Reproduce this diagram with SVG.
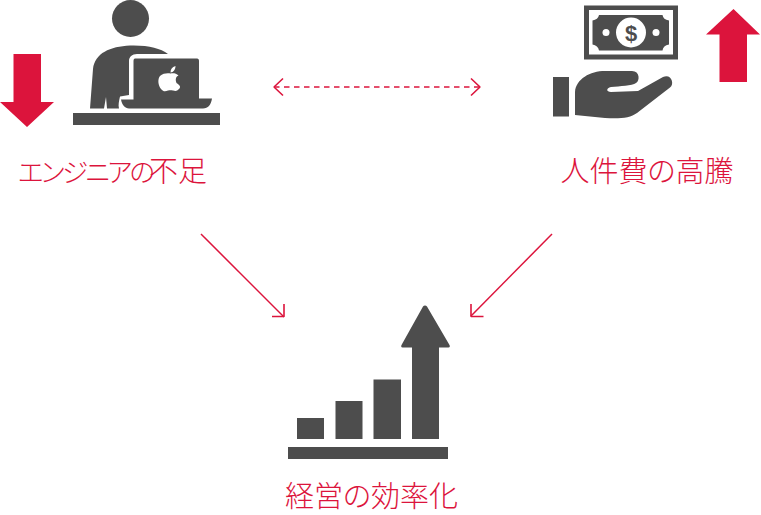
<svg xmlns="http://www.w3.org/2000/svg" width="761" height="515" viewBox="0 0 761 515">
<style>
.ic{fill:#4d4d4d}
.red{fill:#dc143c}
.lb{fill:#dc143c;font-family:"Noto Sans CJK JP","Noto Sans",sans-serif;font-size:29px;font-weight:300;text-anchor:middle;font-feature-settings:"palt"}
.cn{fill:none;stroke:#dc143c;stroke-width:1.5}
.hd{fill:none;stroke:#dc143c;stroke-width:1.6;stroke-linejoin:bevel}
</style>
<rect width="761" height="515" fill="#fff"/>
<g id="connectors">
<line class="cn" x1="274" y1="87" x2="479" y2="87" stroke-dasharray="5.5 4.5"/>
<path class="hd" d="M283 78.500L274 87L283 95.500M471 78.500L480 87L471 95.500"/>
<line class="cn" x1="201" y1="234" x2="284" y2="317"/>
<path class="hd" d="M272 316.500H284V304"/>
<line class="cn" x1="552" y1="234" x2="471" y2="316"/>
<path class="hd" d="M471 304V316.500H483.500"/>
</g>
<g id="engineer-shortage">
<path class="red" d="M13.500 54H41V102H54L27 127L0 102H13.500Z"/>
<circle class="ic" cx="130.500" cy="18.500" r="18.500"/>
<path class="ic" d="M90 108.500L93 69C95 53 110 46.500 130 45.500C148 45 160 48 168 54L137 54C132 54 129 57 129 61L129 95L120 96.500C119 101 118 105 119 108.500L107 108.500L106 97L104 108.500Z"/>
<path class="ic" d="M135 58.500H197C198.500 58.500 199 59.500 199 61V98.500H212C211 105 208 108.500 203 108.500H129C125 108.500 122 105 121 99.500H133.500V61C133.500 59.500 134 58.500 135 58.500Z"/>
<path fill="#fff" d="M175.500 66C172 67 170.500 69.500 170.500 72.500C173.500 72.500 175.500 69.500 175.500 66ZM170.500 73.500C168 73 163 73 160 76C157.500 79 158 85 161 89C163.500 92 165.500 91.500 168 90.500C170 90 171 90 173 90.500C176 91.500 177 91 179 89C180.500 87.500 181 86 176.500 83C175 79 176 76.500 178.500 75.500C176 73 173 73 170.500 73.500Z"/>
<rect class="ic" x="73" y="113" width="147" height="12"/>
<text class="lb" y="182" style="text-anchor:start"><tspan x="18" font-size="26.500" letter-spacing="-2.500">エンジニアの</tspan><tspan x="149">不足</tspan></text>
</g>
<g id="labor-cost">
<path class="red" d="M733.500 9L760 34.500H747V82H719.500V34.500H706Z"/>
<rect class="ic" x="584" y="5.500" width="94" height="54"/>
<rect x="589" y="10" width="84" height="44.500" fill="#fff"/>
<path class="ic" d="M599 15H662.500C663 18 665 20 669 20.500V44.500C665 45 663 47 662.500 50.500H599C598.500 47 596 45 592.500 44.500V20.500C596 20 598.500 18 599 15Z"/>
<circle cx="631" cy="32.500" r="15" fill="#fff"/>
<circle cx="606" cy="32.500" r="3.500" fill="#fff"/>
<circle cx="656" cy="32.500" r="3.500" fill="#fff"/>
<text x="631" y="40.500" fill="#4d4d4d" font-family="Liberation Sans, sans-serif" font-size="22" font-weight="700" text-anchor="middle">$</text>
<rect class="ic" x="553" y="77" width="16" height="39.500"/>
<path class="ic" d="M575 115V92C576 79 590 71 605 71H632C640 71 640 81 636 83C632 86 620 86 611 87C606 88 606 92 611 92L638 91L663 77C671 73 675 84 670 87.500L637 113C630 118 620 119 605 118Z"/>
<text class="lb" x="647" y="182">人件費の高騰</text>
</g>
<g id="efficiency">
<rect class="ic" x="297" y="418" width="27" height="21"/>
<rect class="ic" x="335.500" y="401" width="27" height="38"/>
<rect class="ic" x="373.500" y="379.500" width="27.500" height="59.500"/>
<path class="ic" d="M412 439V347.500H402.500C401 347.500 401 346 401.500 345L423 306.500C424 305 426 305 427 306.500L449.500 345C450 346 450 347.500 448.500 347.500H439V439Z"/>
<rect class="ic" x="288" y="447" width="160" height="12"/>
<text class="lb" x="371.500" y="506.500">経営の効率化</text>
</g>
</svg>
